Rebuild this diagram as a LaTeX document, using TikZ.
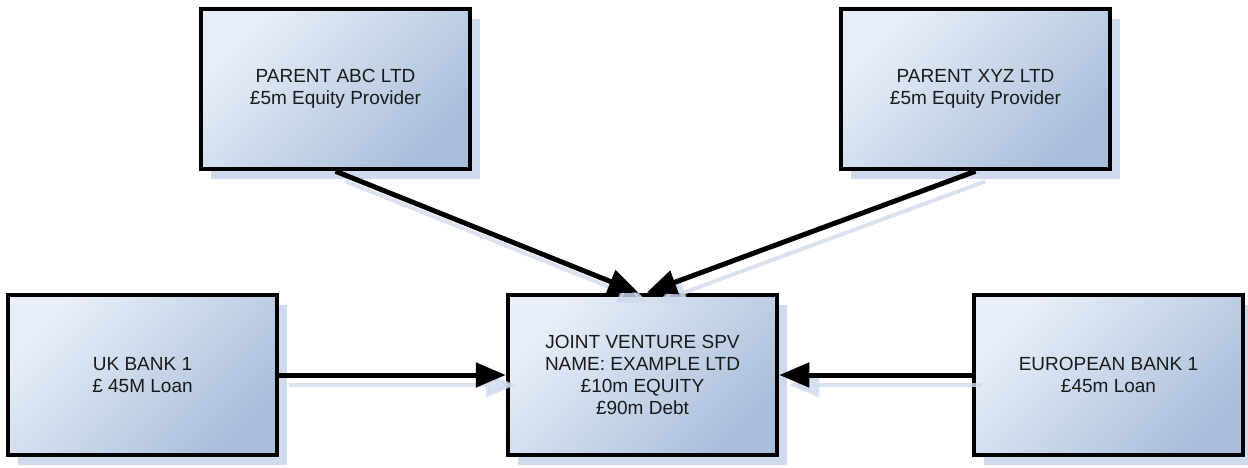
\documentclass[tikz,border=0pt]{standalone}
\usepackage{fontspec}
\setmainfont{Liberation Sans}
\usetikzlibrary{arrows.meta,shadows}

\definecolor{boxlight}{HTML}{E9EFF8}
\definecolor{boxdark}{HTML}{A9BEDB}
\definecolor{shadowblue}{HTML}{CFDBED}
\definecolor{inktext}{HTML}{1A1A1A}

\begin{document}
\begin{tikzpicture}[x=1pt,y=-1pt,
  entity/.style={draw=black, line width=4.5pt,
    minimum width=269pt, minimum height=160pt, inner sep=0pt,
    align=center, text=inktext, font=\fontsize{19}{22}\selectfont,
    top color=boxlight, bottom color=boxdark, shading angle=45,
    general shadow={fill=shadowblue, shadow xshift=10pt, shadow yshift=-10pt}},
  flow/.style={draw=black, line width=5pt, -{Triangle[length=30pt,width=24pt]}},
  flowshadow/.style={draw=shadowblue, line width=4pt, opacity=0.8,
    -{Triangle[length=30pt,width=24pt]},
    transform canvas={shift={(10pt,-10pt)}}}
]
\useasboundingbox (0,0) rectangle (1248,468);

% parties
\node[entity] (abc) at (335.5,89) {PARENT ABC LTD\\\pounds5m Equity Provider};
\node[entity] (xyz) at (975.5,89) {PARENT XYZ LTD\\\pounds5m Equity Provider};
\node[entity] (uk)  at (142.5,375) {UK BANK 1\\\pounds\ 45M Loan};
\node[entity] (jv)  at (642.5,375) {JOINT VENTURE SPV\\NAME: EXAMPLE LTD\\\pounds10m EQUITY\\\pounds90m Debt};
\node[entity] (eu)  at (1108.5,375) {EUROPEAN BANK 1\\\pounds45m Loan};

% soft copies of the flows
\draw[flowshadow] (abc.south) -- ([xshift=-4pt]jv.north);
\draw[flowshadow] (xyz.south) -- ([xshift=4pt]jv.north);
\draw[flowshadow] (uk.east) -- (jv.west);
\draw[flowshadow] (eu.west) -- (jv.east);

% funding flows into the SPV
\draw[flow] (abc.south) -- ([xshift=-4pt]jv.north);
\draw[flow] (xyz.south) -- ([xshift=4pt]jv.north);
\draw[flow] (uk.east) -- (jv.west);
\draw[flow] (eu.west) -- (jv.east);
\end{tikzpicture}
\end{document}
